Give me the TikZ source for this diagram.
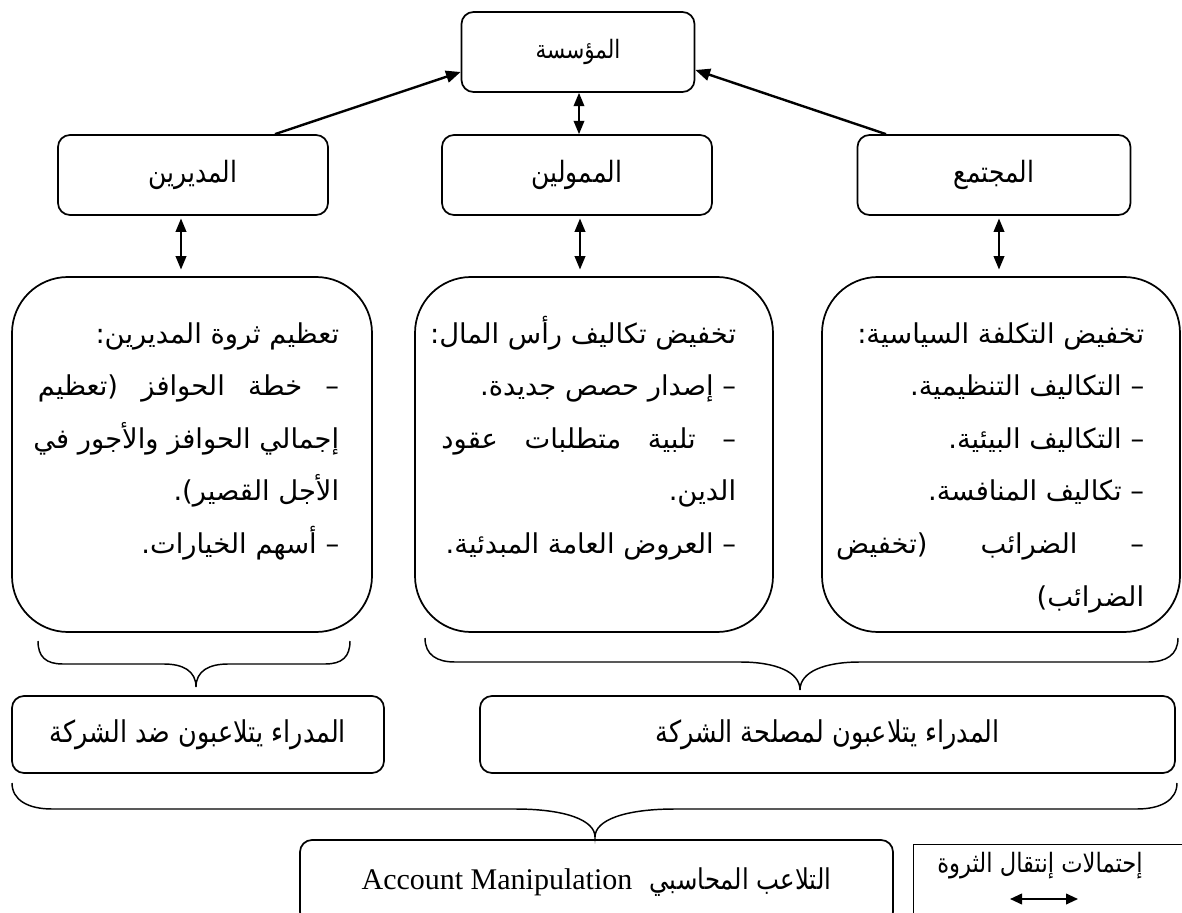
\documentclass[tikz,border=0pt]{standalone}
\usepackage{fontspec}
\setmainfont{Liberation Serif}
\newfontfamily\ar[Script=Arabic]{DejaVu Sans}
\newfontfamily\arc[Script=Arabic,FakeStretch=0.85]{DejaVu Sans}
\newfontfamily\lser{Liberation Serif}
\TeXXeTstate=1
\usetikzlibrary{arrows.meta,calc}
\newdimen\mytw
\newcommand\myrl[1]{\hbox to \mytw{\hss\beginR #1\endR}}
\newcommand\myjl[1]{\hbox to \mytw{\hskip 0pt minus 1fil\beginR #1\endR}}
\begin{document}
\begin{tikzpicture}[x=0.75pt,y=-0.75pt,line width=1.3pt,
  sbox/.style={draw,rounded corners=9pt,inner sep=0pt,line width=1.3pt},
  bigbox/.style={draw,rounded corners=42pt,inner sep=0pt,line width=1.3pt,minimum width=268.5pt,minimum height=266.25pt},
  arr/.style={-{Triangle[length=11pt,width=9pt]},line width=1.8pt},
  darr/.style={{Triangle[length=10pt,width=8pt]}-{Triangle[length=10pt,width=8pt]},line width=1.2pt},
  brace/.style={line width=1.1pt},
  toplbl/.style={font=\arc\fontsize{19pt}{21pt}\selectfont},
  midlbl/.style={font=\arc\fontsize{22pt}{24pt}\selectfont},
  botlbl/.style={font=\arc\fontsize{22.5pt}{24pt}\selectfont},
  bodytxt/.style={anchor=base east,inner sep=0pt,font=\ar\fontsize{20.5pt}{39.5pt}\selectfont}
  ]
\useasboundingbox (0,0) rectangle (1182,913);

% top row
\node[sbox,toplbl,minimum width=174.75pt,minimum height=60pt] (mua) at (578,52) {\beginR المؤسسة\endR};
\node[sbox,midlbl,minimum width=202.5pt,minimum height=60pt] (mud) at (193,175) {\beginR المديرين\endR};
\node[sbox,midlbl,minimum width=202.5pt,minimum height=60pt] (mum) at (577,175) {\beginR الممولين\endR};
\node[sbox,midlbl,minimum width=204.75pt,minimum height=60pt] (muj) at (994,175) {\beginR المجتمع\endR};

% connectors top
\draw[arr] ([xshift=61.5pt]mud.north) -- ([yshift=-15pt]mua.west);
\draw[arr] ([xshift=-81pt]muj.north) -- ([yshift=-13.5pt]mua.east);
\draw[darr] ([xshift=0.75pt]mua.south) -- ([xshift=0.75pt]mua.south |- mum.north);

% big boxes
\node[bigbox,minimum width=270pt] (bl) at (192,454.5) {};
\node[bigbox] (bm) at (594,454.5) {};
\node[bigbox] (br) at (1001,454.5) {};

\draw[darr,shorten <=2pt,shorten >=5pt] ([xshift=-9pt]mud.south) -- ([xshift=-9pt]mud.south |- bl.north);
\draw[darr,shorten <=2pt,shorten >=5pt] ([xshift=2.25pt]mum.south) -- ([xshift=2.25pt]mum.south |- bm.north);
\draw[darr,shorten <=2pt,shorten >=5pt] ([xshift=3.75pt]muj.south) -- ([xshift=3.75pt]muj.south |- br.north);

% texts in big boxes
\node[bodytxt] (tr) at (1145,343) {\mytw=231pt\vtop{%
\myrl{تخفيض التكلفة السياسية:}
\myrl{– التكاليف التنظيمية.}
\myrl{– التكاليف البيئية.}
\myrl{– تكاليف المنافسة.}
\myjl{– الضرائب (تخفيض}
\myrl{الضرائب)}}};
\node[bodytxt] (tm) at (737,343) {\mytw=221pt\vtop{%
\myrl{تخفيض تكاليف رأس المال:}
\myrl{– إصدار حصص جديدة.}
\myjl{– تلبية متطلبات عقود}
\myrl{الدين.}
\myrl{– العروض العامة المبدئية.}}};
\node[bodytxt] (tl) at (340,343) {\mytw=226pt\vtop{%
\myrl{تعظيم ثروة المديرين:}
\myjl{– خطة الحوافز (تعظيم}
\myjl{إجمالي الحوافز والأجور في}
\myrl{الأجل القصير).}
\myrl{– أسهم الخيارات.}}};

% braces
\draw[brace] (38,641) .. controls (38,657) and (46,664) .. (63,664) -- (164,664)
  .. controls (183,664) and (196,671) .. (196,687)
  .. controls (196,671) and (209,664) .. (228,664) -- (325,664)
  .. controls (342,664) and (350,657) .. (350,641);
\draw[brace] (425,638) .. controls (425,655) and (437,662) .. (455,662) -- (740,662)
  .. controls (776,662) and (800,672) .. (800,690)
  .. controls (800,672) and (824,662) .. (860,662) -- (1148,662)
  .. controls (1166,662) and (1178,655) .. (1178,638);
\draw[brace] (12,783) .. controls (12,800) and (28,809) .. (52,809) -- (515,809)
  .. controls (565,809) and (595,820) .. (595,837)
  .. controls (595,820) and (625,809) .. (675,809) -- (1137,809)
  .. controls (1161,809) and (1177,800) .. (1177,783);

% lower boxes
\node[sbox,botlbl,minimum width=279pt,minimum height=57.75pt] (lba) at (198,734.5) {\beginR المدراء يتلاعبون ضد الشركة\endR};
\node[sbox,botlbl,minimum width=521.25pt,minimum height=57.75pt] (lbb) at (827.5,734.5) {\beginR المدراء يتلاعبون لمصلحة الشركة\endR};
\node[sbox,font=\arc\fontsize{21.5pt}{24pt}\selectfont,minimum width=444.75pt,minimum height=63pt] (acc) at (596.5,882) {\beginR التلاعب المحاسبي\hspace{0.6em}\beginL{\lser\fontsize{22.5pt}{24pt}\selectfont Account Manipulation}\endL\endR};

% legend
\node[draw,line width=0.7pt,inner sep=0pt,minimum width=210pt,minimum height=60pt,anchor=north west] (leg) at (913,844) {};
\node[font=\arc\fontsize{20pt}{22pt}\selectfont,inner sep=0pt] (legt) at (1040,866) {\beginR إحتمالات إنتقال الثروة\endR};
\coordinate (la) at (1010,899);
\coordinate (lb) at (1078,899);
\draw[{Triangle[length=9pt,width=8pt]}-{Triangle[length=9pt,width=8pt]},line width=1.4pt] (la) -- (lb);
\end{tikzpicture}
\end{document}
